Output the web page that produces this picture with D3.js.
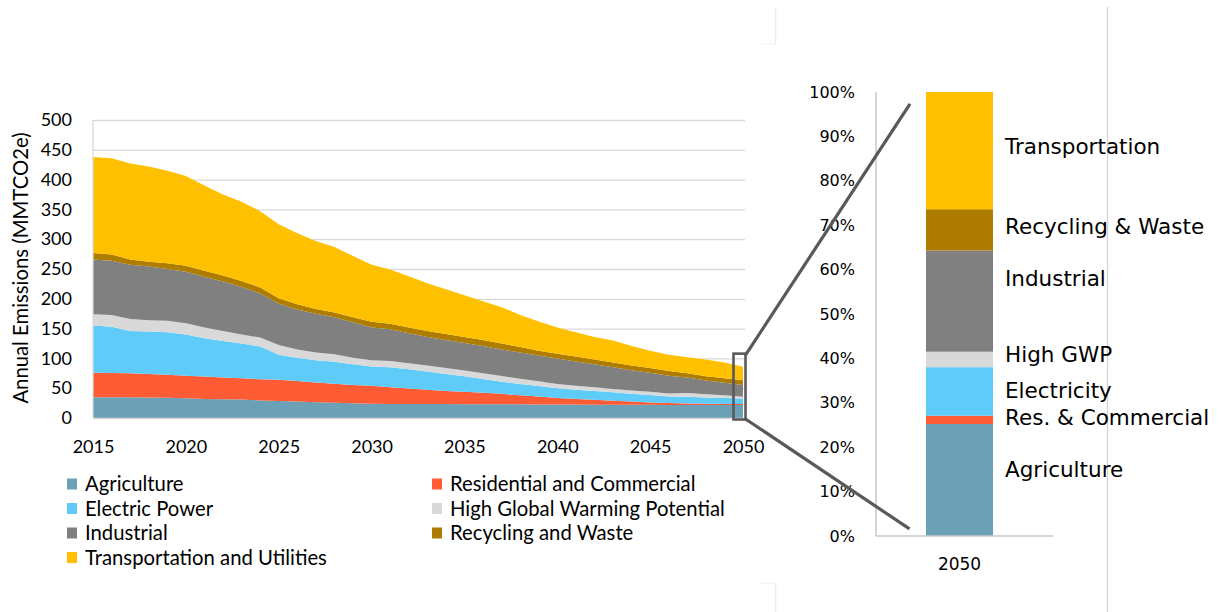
<!DOCTYPE html>
<html><head><meta charset="utf-8">
<script src="https://cdn.jsdelivr.net/npm/d3@7"></script>
<style>body{margin:0;background:#fff;} svg{display:block;}</style>
</head><body><svg id="c" width="1219" height="612"></svg>
<script>
const years = [2015,2016,2017,2018,2019,2020,2021,2022,2023,2024,2025,2026,2027,2028,2029,2030,2031,2032,2033,2034,2035,2036,2037,2038,2039,2040,2041,2042,2043,2044,2045,2046,2047,2048,2049,2050];
const agriculture = [35,35,35,34.5,34,33,32,31.5,31,29.5,28.5,27.5,26.5,25.7,24.8,24,23.5,23.5,23.5,23.3,23.2,23,23,23,22.8,22.6,22.5,22.4,22.3,22.2,22.1,22,22,21.9,21.8,21.7];
const residential = [41,40.5,40,39.5,38.5,38,37.5,36.5,35.5,35.5,35.5,34.5,33,31.8,30.7,30,28,26,24,22.2,20.8,19.5,17.5,15,13.2,10.9,9.5,8.1,6.7,5.3,3.9,3,2.5,2.1,1.7,1.6];
const electricPower = [79,77.5,71,71,71.5,69,64.5,61,58.5,55,42,39,37.5,37,34.5,32.5,33.5,32.5,30.5,28.5,26,23,20.5,19,17.5,16.5,15.5,15,14,13,12.5,11,11,10.5,10,9.4];
const highGWP = [19,20,20,19,19,19,18,17,15,15,16.5,14,13,12.5,11,10.5,10.5,10,10,10,9.5,9.5,9.5,9,8,7,6.5,6,5.5,5.5,5.5,5,6.5,5.5,4.5,3.0];
const industrial = [92,91,91,90,87,86.5,85,83,80,74,69.5,67,65,62,59.5,55,53.5,50,48,47,46.5,46,44.5,44,43.5,43,41,38.5,36.5,34,32,30,26,23,21,19.6];
const recycling = [11,10.5,9,8,9.5,10,10,10,10,10,9,9,8,8,8.5,9.5,9,10,10,10,10,10,10,9,8,8,8,8,8,8,8,8,7,7,7.5,8];
const transportation = [161,161.5,161,160,155.5,150.5,143,136,133,128,124,119,114,110,103,95.5,91,86,80,75,70,65,61,54,49,44,41,38,37,33,29,27,27,28,26.5,22.7];

const seriesNames = ["Agriculture","Residential and Commercial","Electric Power","High Global Warming Potential","Industrial","Recycling and Waste","Transportation and Utilities"];
const seriesColors = ["#6ca0b7","#ff5b35","#5fcbf8","#d9d9d9","#808080","#ae7d00","#ffc000"];
const seriesValues = [agriculture,residential,electricPower,highGWP,industrial,recycling,transportation];
const yTicks = [0,50,100,150,200,250,300,350,400,450,500];
const xTicks = [2015,2020,2025,2030,2035,2040,2045,2050];
const yTitle = "Annual Emissions (MMTCO2e)";
const barCategory = "2050";
const barLabels = ["Agriculture","Res. & Commercial","Electricity","High GWP","Industrial","Recycling & Waste","Transportation"];
const barLabelPct = [14.9,26.6,32.7,40.8,58.1,69.8,87.8];
const pctTicks = [0,10,20,30,40,50,60,70,80,90,100];

const svg = d3.select("#c");
const leftFont = "Lato, 'Open Sans', sans-serif";
const rightFont = "'DejaVu Sans', Verdana, sans-serif";

// panel border artifacts
svg.append("line").attr("x1",775.5).attr("x2",775.5).attr("y1",7).attr("y2",44).attr("stroke","#ececec").attr("stroke-width",1.5);
svg.append("line").attr("x1",760).attr("x2",775.5).attr("y1",44).attr("y2",44).attr("stroke","#f2f2f2").attr("stroke-width",1);
svg.append("line").attr("x1",775.5).attr("x2",775.5).attr("y1",583).attr("y2",612).attr("stroke","#ececec").attr("stroke-width",1.5);
svg.append("line").attr("x1",760).attr("x2",775.5).attr("y1",583).attr("y2",583).attr("stroke","#f2f2f2").attr("stroke-width",1);
svg.append("line").attr("x1",1107.5).attr("x2",1107.5).attr("y1",7).attr("y2",612).attr("stroke","#d4d4d4").attr("stroke-width",1.3);

// ---------- left area chart ----------
const x = d3.scaleLinear().domain([2015,2050]).range([93,743]);
const y = d3.scaleLinear().domain([0,500]).range([418,120]);

const rows = years.map((yr,i)=>{const o={year:yr}; seriesNames.forEach((n,k)=>o[n]=seriesValues[k][i]); return o;});
const stack = d3.stack().keys(seriesNames)(rows);

// gridlines
svg.append("g").attr("transform","translate(93,0)")
  .call(d3.axisLeft(y).tickValues(yTicks.filter(v=>v>0)).tickSize(-652).tickFormat(""))
  .call(g=>g.select(".domain").remove())
  .call(g=>g.selectAll("line").attr("stroke","#d9d9d9").attr("stroke-width",1.3));

const area = d3.area().x(d=>x(d.data.year)).y0(d=>y(d[0])).y1(d=>y(d[1]));
svg.append("g").selectAll("path").data(stack).join("path")
  .attr("d",area).attr("fill",(d,i)=>seriesColors[i]);

// axis lines
svg.append("line").attr("x1",93).attr("x2",93).attr("y1",120).attr("y2",418).attr("stroke","#d9d9d9").attr("stroke-width",1.3);
svg.append("line").attr("x1",93).attr("x2",745).attr("y1",418.5).attr("y2",418.5).attr("stroke","#d9d9d9").attr("stroke-width",1.3);

// y axis labels
svg.append("g").attr("transform","translate(93,0)")
  .call(d3.axisLeft(y).tickValues(yTicks).tickSize(0).tickPadding(21))
  .call(g=>g.select(".domain").remove())
  .call(g=>g.selectAll("text").attr("font-family",leftFont).attr("font-size",18).attr("fill","#000"));

// x axis labels
svg.append("g").attr("transform","translate(0,418)")
  .call(d3.axisBottom(x).tickValues(xTicks).tickFormat(d3.format("d")).tickSize(0).tickPadding(22))
  .call(g=>g.select(".domain").remove())
  .call(g=>g.selectAll("text").attr("font-family",leftFont).attr("font-size",18).attr("fill","#000"));

svg.append("text").attr("transform","translate(28,268) rotate(-90)")
  .attr("text-anchor","middle").attr("font-family",leftFont).attr("font-size",20.3).attr("fill","#000").text(yTitle);

// legend
const lg = svg.append("g");
seriesNames.forEach((n,i)=>{
  const col = i%2, row = Math.floor(i/2);
  const gx = col===0 ? 67 : 432, gy = 484 + row*24.5;
  lg.append("rect").attr("x",gx).attr("y",gy-5.5).attr("width",10).attr("height",11).attr("fill",seriesColors[i]);
  lg.append("text").attr("x",gx+18).attr("y",gy).attr("dy","0.35em").attr("font-family",leftFont).attr("font-size",20.3).attr("fill","#000").text(n);
});

// ---------- right 100% bar ----------
const yp = d3.scaleLinear().domain([0,100]).range([536,92]);
const xb = d3.scaleBand().domain([barCategory]).range([876,1043]).paddingInner(0.5).paddingOuter(0.373);
const last = seriesValues.map(s=>s[s.length-1]);
const total = d3.sum(last);
let cum = 0;
const segs = last.map((v,i)=>{const s={y0:cum, y1:cum+v/total*100, c:seriesColors[i]}; cum=s.y1; return s;});
svg.append("g").selectAll("rect").data(segs).join("rect")
  .attr("x",xb(barCategory)).attr("width",xb.bandwidth())
  .attr("y",d=>yp(d.y1)).attr("height",d=>yp(d.y0)-yp(d.y1)).attr("fill",d=>d.c);

svg.append("line").attr("x1",876).attr("x2",876).attr("y1",92).attr("y2",536).attr("stroke","#c8c8c8").attr("stroke-width",1.5);
svg.append("line").attr("x1",876).attr("x2",1053).attr("y1",536).attr("y2",536).attr("stroke","#c8c8c8").attr("stroke-width",1.5);

svg.append("g").attr("transform","translate(876,0)")
  .call(d3.axisLeft(yp).tickValues(pctTicks).tickFormat(d=>d+"%").tickSize(0).tickPadding(21))
  .call(g=>g.select(".domain").remove())
  .call(g=>g.selectAll("text").attr("font-family",rightFont).attr("font-size",16).attr("fill","#000"));

svg.append("g").attr("transform","translate(0,536)")
  .call(d3.axisBottom(xb).tickSize(0).tickPadding(22))
  .call(g=>g.select(".domain").remove())
  .call(g=>g.selectAll("text").attr("font-family",rightFont).attr("font-size",17).attr("fill","#000"));

svg.append("g").selectAll("text").data(barLabels).join("text")
  .attr("x",1005).attr("y",(d,i)=>yp(barLabelPct[i])).attr("dy","0.35em")
  .attr("font-family",rightFont).attr("font-size",21.5).attr("fill","#000").text(d=>d);

// zoom box and connectors
const bx0 = x(2050)-9.5, bx1 = x(2050)+2.5, by0 = y(108), by1 = y(-2.5);
svg.append("rect").attr("x",bx0).attr("y",by0).attr("width",bx1-bx0).attr("height",by1-by0)
  .attr("fill","none").attr("stroke","#595959").attr("stroke-width",2.6);
svg.append("line").attr("x1",bx1).attr("y1",by0+1.5).attr("x2",910).attr("y2",yp(97.3))
  .attr("stroke","#595959").attr("stroke-width",3.2);
svg.append("line").attr("x1",bx1).attr("y1",by1-0.5).attr("x2",909.5).attr("y2",yp(1.6))
  .attr("stroke","#595959").attr("stroke-width",3.2);
</script></body></html>
